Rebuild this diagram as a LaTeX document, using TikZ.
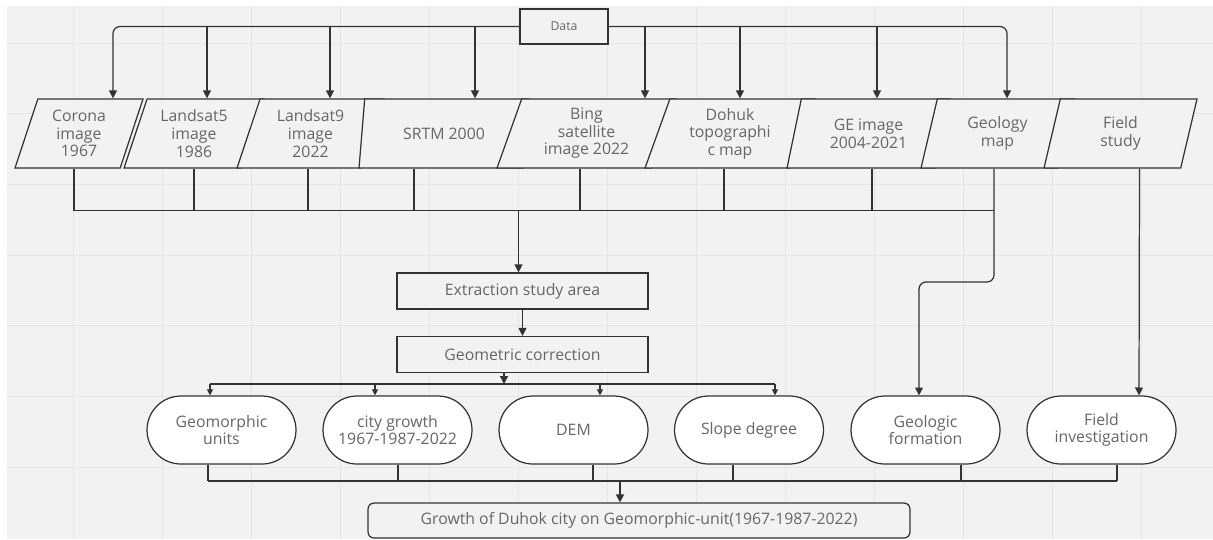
\documentclass[tikz,border=0pt]{standalone}
\usepackage{fontspec}
\setmainfont{Open Sans}
\usetikzlibrary{shapes.geometric,shapes.misc,arrows.meta}
\definecolor{bg}{HTML}{F2F2F2}
\definecolor{gridc}{HTML}{E5E5E5}
\definecolor{ln}{HTML}{333333}
\definecolor{txt}{HTML}{666666}
\begin{document}
\begin{tikzpicture}[x=0.02cm,y=-0.02cm,
    every node/.style={font=\fontsize{9}{10}\selectfont,text=txt,align=center},
    conn/.style={draw=ln,line width=0.7pt},
    arr/.style={conn,-{Triangle[width=4.5pt,length=4.5pt]}},
    sarr/.style={conn,-{Triangle[width=3.5pt,length=3.5pt]}},
    box/.style={conn,fill=bg,minimum height=0.72cm,minimum width=5.02cm,inner sep=0pt},
    src/.style={conn,fill=bg,trapezium,trapezium left angle=64,trapezium right angle=116,
      trapezium stretches body=true,minimum height=1.38cm,inner sep=0pt},
    unit/.style={conn,fill=white,rounded rectangle,minimum width=2.98cm,minimum height=1.36cm,inner sep=0pt}]
  \useasboundingbox (0,0) rectangle (1213,539);
  \fill[bg] (7,6) rectangle (1213,539);
  \foreach \gx in {0,...,12}
    \draw[gridc,line width=0.4pt] (73+89*\gx,6) -- (73+89*\gx,539);
  \foreach \gy in {0,...,6}
    \draw[gridc,line width=0.4pt] (7,43+70.7*\gy) -- (1213,43+70.7*\gy);

  \node[box,minimum width=1.76cm,minimum height=0.7cm,font=\fontsize{7}{8}\selectfont] (data) at (564,26.5) {Data};
  \node[src,minimum width=2.56cm] (corona) at (79,133.5) {Corona\\image\\1967};
  \node[src,minimum width=2.8cm] (landsat5) at (194,133.5) {Landsat5\\image\\1986};
  \node[src,minimum width=2.94cm] (landsat9) at (310.5,133.5) {Landsat9\\image\\2022};
  \node[src,minimum width=3.4cm] (srtm) at (444,133.5) {SRTM 2000};
  \node[src,minimum width=3.58cm] (bing) at (586.5,133.5) {Bing\\satellite\\image 2022};
  \node[src,minimum width=3.4cm] (dohuk) at (730,133.5) {Dohuk\\topographi\\c map};
  \node[src,minimum width=3.26cm] (ge) at (868.5,133.5) {GE image\\2004-2021};
  \node[src,minimum width=3.06cm] (geology) at (997.5,133.5) {Geology\\map};
  \node[src,minimum width=3.06cm] (field) at (1120.5,133.5) {Field\\study};

  \node[box] (extract) at (522.5,291) {Extraction study area};
  \node[box] (geomcorr) at (522.5,354.5) {Geometric correction};

  \node[unit] (geomorph) at (221.5,430) {Geomorphic\\units};
  \node[unit] (city) at (397.5,430) {city growth\\1967-1987-2022};
  \node[unit] (dem) at (573.5,430) {DEM};
  \node[unit] (slope) at (749,430) {Slope degree};
  \node[unit] (geoform) at (925.5,430) {Geologic\\formation};
  \node[unit] (fieldinv) at (1101.5,430) {Field\\investigation};

  \node[box,rounded corners=0.12cm,minimum width=10.84cm,minimum height=0.7cm] (final) at (639,520.5)
    {Growth of Duhok city on Geomorphic-unit(1967-1987-2022)};

  \coordinate (bus1) at (0,210.5);
  \coordinate (hop) at (0,282);
  \coordinate (bus2) at (0,384);
  \coordinate (bus3) at (0,481);

  \draw[arr,rounded corners=4pt] (data.west) -| ([xshift=0.68cm]corona.north);
  \draw[arr,rounded corners=4pt] (data.east) -| ([xshift=0.19cm]geology.north);
  \foreach \n/\s in {landsat5/0.26,landsat9/0.39,srtm/0.62,bing/1.17,dohuk/0.2,ge/0.17}
    \draw[arr] ([xshift=\s cm]\n.north |- data) -- ([xshift=\s cm]\n.north);

  \foreach \n/\s in {corona/-0.1,landsat5/0,landsat9/-0.05,srtm/-0.6,bing/-0.13,dohuk/-0.12,ge/0.07}
    \draw[conn] ([xshift=\s cm]\n.south) -- ([xshift=\s cm]\n.south |- bus1);
  \draw[conn] ([xshift=-0.1cm]corona.south |- bus1) -- ([xshift=-0.07cm]geology.south |- bus1);
  \draw[arr,rounded corners=4pt] ([xshift=-0.07cm]geology.south) |- ([xshift=-0.13cm]geoform.north |- hop)
    -- ([xshift=-0.13cm]geoform.north);
  \draw[arr] ([xshift=0.38cm]field.south) -- ([xshift=0.75cm]fieldinv.north);

  \draw[arr] ([xshift=-0.08cm]extract.north |- bus1) -- ([xshift=-0.08cm]extract.north);
  \draw[arr] (extract.south) -- (geomcorr.north);
  \draw[arr] ([xshift=-0.37cm]geomcorr.south) -- ([xshift=-0.37cm]geomcorr.south |- bus2);
  \draw[conn] ([xshift=-0.23cm]geomorph.north |- bus2) -- ([xshift=0.52cm]slope.north |- bus2);
  \foreach \n/\s in {geomorph/-0.23,city/-0.45,dem/0.53,slope/0.52}
    \draw[sarr] ([xshift=\s cm]\n.north |- bus2) -- ([xshift=\s cm]\n.north);

  \foreach \n/\s in {geomorph/-0.27,city/0.01,dem/0.39,slope/-0.32,geoform/0.71,fieldinv/0.31}
    \draw[conn] ([xshift=\s cm]\n.south) -- ([xshift=\s cm]\n.south |- bus3);
  \draw[conn] ([xshift=-0.27cm]geomorph.south |- bus3) -- ([xshift=0.31cm]fieldinv.south |- bus3);
  \draw[arr] ([xshift=-0.38cm]final.north |- bus3) -- ([xshift=-0.38cm]final.north);
\end{tikzpicture}
\end{document}
